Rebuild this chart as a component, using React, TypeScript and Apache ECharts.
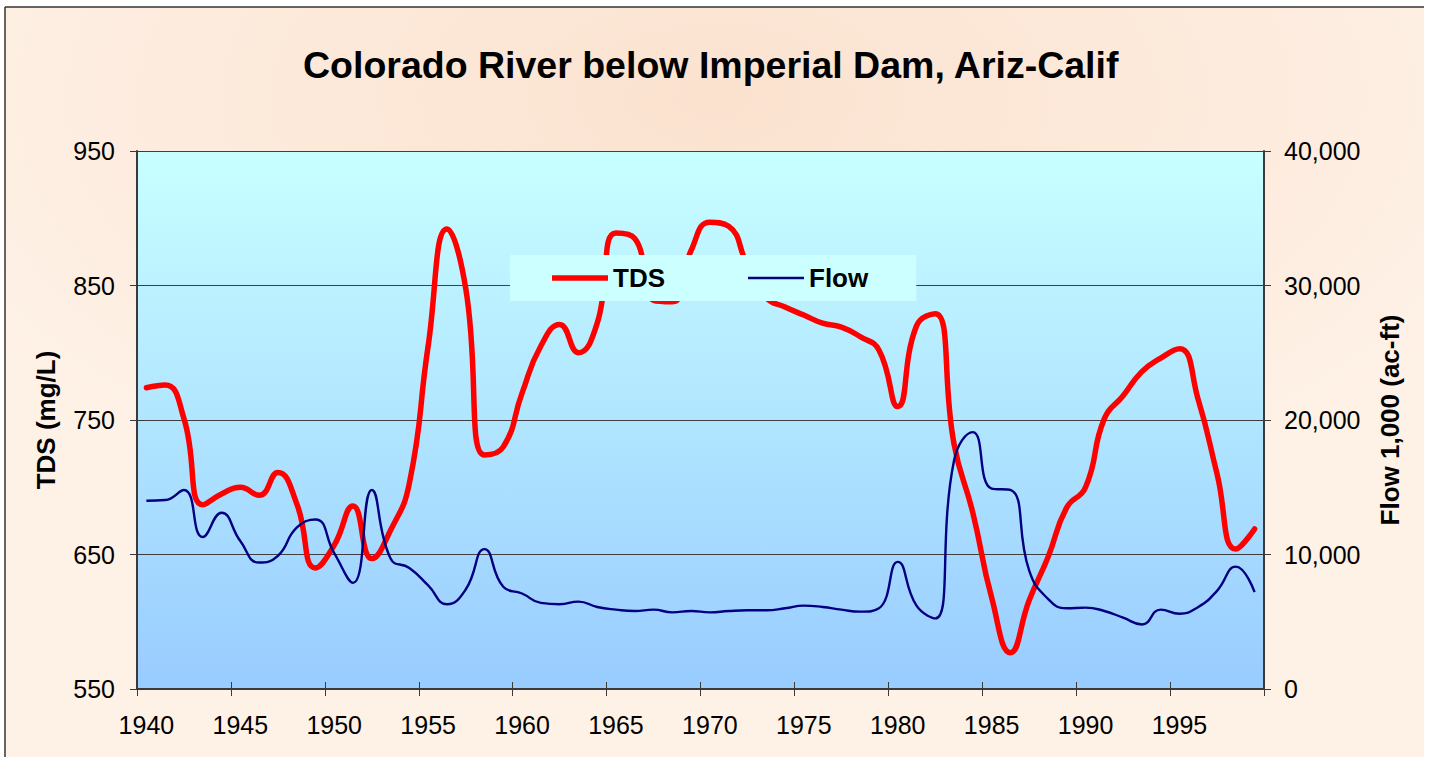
import React, { useEffect, useRef } from "react";
import * as echarts from "echarts";

const years: string[] = Array.from({ length: 60 }, (_, i) => String(1940 + i));

const tdsValues: number[] = [
  774, 776, 751, 687, 695, 700, 694, 711, 688, 640,
  657, 686, 647, 668, 703, 805, 892, 848, 724, 730,
  770, 805, 821, 800, 822, 889, 885, 839, 838, 876,
  897, 894, 865, 841, 834, 828, 822, 819, 812, 802,
  760, 820, 829, 732, 681, 618, 577, 616, 648, 685,
  700, 751, 768, 786, 796, 803, 765, 710, 654, 669,
];

const flowValues: number[] = [
  14000, 14050, 14800, 11300, 13100, 11000, 9400, 9900, 12000, 12600,
  10100, 7900, 14800, 9700, 9000, 7700, 6300, 7400, 10400, 7600,
  7100, 6400, 6300, 6500, 6100, 5900, 5800, 5900, 5700, 5800,
  5700, 5800, 5850, 5850, 6000, 6200, 6100, 5900, 5750, 6000,
  9450, 6200, 5250, 17000, 19100, 14900, 14800, 8800, 6700, 6000,
  6050, 5800, 5300, 4800, 5900, 5600, 6100, 7300, 9100, 7200,
];

const titleText = "Colorado River below Imperial Dam, Ariz-Calif";
const leftAxisName = "TDS (mg/L)";
const rightAxisName = "Flow 1,000 (ac-ft)";

const FONT = "'Liberation Sans', Arial, sans-serif";
const AXIS_COLOR = "#3a3a3a";

export default function App() {
  const ref = useRef<HTMLDivElement>(null);

  useEffect(() => {
    document.body.style.margin = "0";
    if (!ref.current) return;
    const chart = echarts.init(ref.current, undefined, { renderer: "svg" });

    const hiddenY = {
      axisLine: { show: false },
      axisLabel: { show: false },
      splitLine: { show: false },
      axisTick: { show: true, inside: true, length: 7, lineStyle: { color: AXIS_COLOR, width: 1 } },
    };

    chart.setOption({
      animation: false,
      backgroundColor: "#ffffff",
      textStyle: { fontFamily: FONT },
      graphic: [
        {
          type: "rect",
          z: -100,
          silent: true,
          shape: { x: 5, y: 7, width: 1419, height: 760 },
          style: {
            fill: {
              type: "radial",
              x: 0.5,
              y: 0.12,
              r: 0.6,
              colorStops: [
                { offset: 0, color: "#fbe2cf" },
                { offset: 1, color: "#fef1e6" },
              ],
            },
          },
        },
        {
          type: "line",
          z: -50,
          silent: true,
          shape: { x1: 5, y1: 7, x2: 1424, y2: 7 },
          style: { stroke: "#333333", lineWidth: 1.5 },
        },
        {
          type: "line",
          z: -50,
          silent: true,
          shape: { x1: 5, y1: 7, x2: 5, y2: 757 },
          style: { stroke: "#333333", lineWidth: 1.5 },
        },
      ],
      title: {
        text: titleText,
        left: 298,
        top: 41,
        textStyle: { fontFamily: FONT, fontWeight: "bold", fontSize: 37.5, color: "#000000" },
      },
      legend: {
        data: [
          { name: "TDS", icon: "path://M0 0H56V5.5H0Z", itemStyle: { color: "#ff0000" } },
          { name: "Flow", icon: "path://M0 0H56V2.4H0Z", itemStyle: { color: "#000080" } },
        ],
        left: 510,
        top: 255,
        padding: [10, 48, 10, 42],
        backgroundColor: "#ccffff",
        itemWidth: 56,
        itemHeight: 14,
        itemGap: 83,
        textStyle: { fontFamily: FONT, fontWeight: "bold", fontSize: 26, color: "#000000" },
      },
      grid: {
        left: 137,
        right: 171,
        top: 151,
        bottom: 68,
        show: true,
        borderWidth: 0,
        backgroundColor: {
          type: "linear",
          x: 0,
          y: 0,
          x2: 0,
          y2: 1,
          colorStops: [
            { offset: 0, color: "#c8ffff" },
            { offset: 1, color: "#99ccff" },
          ],
        },
      },
      xAxis: [
        {
          type: "category",
          data: years,
          boundaryGap: true,
          axisLine: { show: true, lineStyle: { color: AXIS_COLOR, width: 2 } },
          axisTick: { show: true, interval: 4, length: 7, lineStyle: { color: AXIS_COLOR, width: 1 } },
          axisLabel: {
            interval: 4,
            margin: 23,
            fontSize: 25,
            color: "#000000",
            fontFamily: FONT,
          },
          splitLine: { show: false },
        },
        {
          type: "category",
          data: years,
          position: "bottom",
          boundaryGap: true,
          axisLine: { show: false },
          axisLabel: { show: false },
          splitLine: { show: false },
          axisTick: { show: true, inside: true, interval: 4, length: 7, lineStyle: { color: AXIS_COLOR, width: 1 } },
        },
      ],
      yAxis: [
        {
          type: "value",
          position: "left",
          min: 550,
          max: 950,
          interval: 100,
          name: leftAxisName,
          nameLocation: "middle",
          nameRotate: 90,
          nameGap: 78,
          nameTextStyle: { fontFamily: FONT, fontWeight: "bold", fontSize: 26, color: "#000000" },
          axisLine: { show: true, lineStyle: { color: AXIS_COLOR, width: 2 } },
          axisTick: { show: true, length: 7, lineStyle: { color: AXIS_COLOR, width: 1 } },
          axisLabel: { margin: 22, fontSize: 25, color: "#000000", fontFamily: FONT },
          splitLine: { show: true, lineStyle: { color: "#404040", width: 1 } },
        },
        {
          type: "value",
          position: "right",
          min: 0,
          max: 40000,
          interval: 10000,
          name: rightAxisName,
          nameLocation: "middle",
          nameRotate: 90,
          nameGap: 113,
          nameTextStyle: { fontFamily: FONT, fontWeight: "bold", fontSize: 26, color: "#000000" },
          axisLine: { show: true, lineStyle: { color: AXIS_COLOR, width: 2 } },
          axisTick: { show: true, length: 7, lineStyle: { color: AXIS_COLOR, width: 1 } },
          axisLabel: {
            margin: 20,
            fontSize: 25,
            color: "#000000",
            fontFamily: FONT,
            formatter: (v: number) => v.toLocaleString("en-US"),
          },
          splitLine: { show: false },
        },
        { type: "value", position: "left", min: 550, max: 950, interval: 100, ...hiddenY },
        { type: "value", position: "right", min: 0, max: 40000, interval: 10000, ...hiddenY },
      ],
      series: [
        {
          name: "TDS",
          type: "line",
          xAxisIndex: 0,
          yAxisIndex: 0,
          data: tdsValues,
          smooth: 0.5,
          symbol: "none",
          z: 3,
          lineStyle: { color: "#ff0000", width: 5.5, cap: "round", join: "round" },
          itemStyle: { color: "#ff0000" },
        },
        {
          name: "Flow",
          type: "line",
          xAxisIndex: 0,
          yAxisIndex: 1,
          data: flowValues,
          smooth: 0.5,
          symbol: "none",
          z: 4,
          lineStyle: { color: "#000080", width: 2.4 },
          itemStyle: { color: "#000080" },
        },
      ],
    });

    return () => {
      chart.dispose();
    };
  }, []);

  return <div ref={ref} style={{ width: 1435, height: 757 }} />;
}
